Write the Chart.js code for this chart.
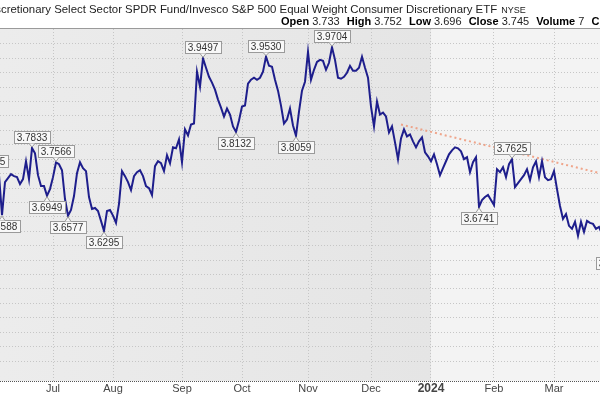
<!DOCTYPE html>
<html>
<head>
<meta charset="utf-8">
<script src="https://cdn.jsdelivr.net/npm/chart.js@4.4.0/dist/chart.umd.min.js"></script>
<style>
  html, body { margin: 0; padding: 0; background: #fff; overflow: hidden; }
  #wrap { position: relative; width: 600px; height: 396px; }
</style>
</head>
<body>
<div id="wrap"><canvas id="ratioChart" width="600" height="396"></canvas></div>
<script>
// XLY / RSPD daily close ratio, one value per trading day (index 0 = 31 May 2023)
const ratioValues = [
  3.7219, 3.7395, 3.7330, 3.7404, 3.7330, 3.6588, 3.7201, 3.7274, 3.7348, 3.7311,
  3.7293, 3.7164, 3.7256, 3.7588, 3.7256, 3.7833, 3.7736, 3.7330, 3.7127, 3.7127,
  3.6949, 3.7072, 3.7293, 3.7566, 3.7533, 3.7422, 3.6887, 3.6577, 3.6684, 3.6942,
  3.7367, 3.7570, 3.7459, 3.7404, 3.6924, 3.6703, 3.6721, 3.6666, 3.6481, 3.6295,
  3.6666, 3.6684, 3.6579, 3.6444, 3.6795, 3.7404, 3.7311, 3.7201, 3.7053, 3.7311,
  3.7385, 3.7422, 3.7311, 3.7127, 3.7090, 3.6961, 3.7496, 3.7588, 3.7551, 3.7404,
  3.7699, 3.7551, 3.7846, 3.7828, 3.7994, 3.7570, 3.8179, 3.8068, 3.8271, 3.8289,
  3.9249, 3.8972, 3.9497, 3.9322, 3.9156, 3.9046, 3.8917, 3.8732, 3.8584, 3.8418,
  3.8566, 3.8455, 3.8234, 3.8132, 3.8345, 3.8603, 3.8621, 3.9027, 3.9101, 3.9138,
  3.9101, 3.9138, 3.9249, 3.9530, 3.9359, 3.9341, 3.9101, 3.8898, 3.8621, 3.8289,
  3.8363, 3.8566, 3.8252, 3.8059, 3.8510, 3.8898, 3.9064, 3.9617, 3.9101, 3.9285,
  3.9433, 3.9470, 3.9451, 3.9285, 3.9415, 3.9704, 3.9470, 3.9138, 3.9119, 3.9156,
  3.9230, 3.9359, 3.9267, 3.9267, 3.9322, 3.9525, 3.9322, 3.9138, 3.8603, 3.8234,
  3.8695, 3.8455, 3.8492, 3.8418, 3.8123, 3.8234, 3.7939, 3.7627, 3.8012, 3.8179,
  3.8049, 3.8086, 3.7957, 3.7846, 3.7957, 3.8031, 3.7754, 3.7680, 3.7588, 3.7717,
  3.7533, 3.7330, 3.7459, 3.7588, 3.7717, 3.7791, 3.7846, 3.7828, 3.7773, 3.7626,
  3.7662, 3.7385, 3.7570, 3.7662, 3.6741, 3.6869, 3.6924, 3.6961, 3.6869, 3.6776,
  3.7441, 3.7385, 3.7477, 3.7293, 3.7533, 3.7625, 3.7108, 3.7182, 3.7256, 3.7330,
  3.7441, 3.7238, 3.7477, 3.7588, 3.7293, 3.7588, 3.7293, 3.7238, 3.7256, 3.7404,
  3.7072, 3.6758, 3.6518, 3.6610, 3.6389, 3.6334, 3.6463, 3.6204, 3.6463, 3.6278,
  3.6481, 3.6444, 3.6426, 3.6334, 3.6370, 3.6241, 3.6149, 3.6186, 3.6057, 3.5909,
  3.6149
];

// first trading day of each month and the label shown under it
const monthStarts = [22, 42, 65, 85, 107, 128, 148, 169, 189];
const monthLabels = ['Jul', 'Aug', 'Sep', 'Oct', 'Nov', 'Dec', '2024', 'Feb', 'Mar'];

// swing highs / lows that carry a value tag
const peakIdx = [1, 15, 23, 72, 93, 115, 175];
const troughIdx = [5, 20, 27, 39, 83, 103, 164, 209];

// dotted trend line (two anchor points)
const trendIdx = [138, 210];
const trendValues = [3.8270, 3.7289];

// horizontal grid levels (price axis labels are off the picture)
const gridValues = [
  3.9765, 3.9498, 3.9230, 3.8963, 3.8695, 3.8428, 3.8160, 3.7893, 3.7625, 3.7358,
  3.7090, 3.6823, 3.6555, 3.6288, 3.6020, 3.5753, 3.5485, 3.5218, 3.4950, 3.4683,
  3.4415, 3.4148, 3.3880
];

const titleText = 'Consumer Discretionary Select Sector SPDR Fund/Invesco S&P 500 Equal Weight Consumer Discretionary ETF';
const exchangeText = 'NYSE';
const quoteLabels = ['Open', 'High', 'Low', 'Close', 'Volume', 'Chg'];
const quoteValues = ['3.733', '3.752', '3.696', '3.745', '7', ''];

const FONT = '"Liberation Sans", Arial, sans-serif';

// Background shading: 2023 darker, 2024 lighter
const backgroundPlugin = {
    id: 'background',
    beforeDraw(chart) {
        const { ctx, chartArea, scales } = chart;
        const split = scales.x.getPixelForValue(monthStarts[6]);
        ctx.save();
        ctx.fillStyle = '#ffffff';
        ctx.fillRect(0, 0, chart.width, chart.height);
        const grad = ctx.createLinearGradient(chartArea.left, 0, split, 0);
        grad.addColorStop(0, '#ececec');
        grad.addColorStop(1, '#e5e5e5');
        ctx.fillStyle = grad;
        ctx.fillRect(chartArea.left, chartArea.top, split - chartArea.left, chartArea.bottom - chartArea.top);
        ctx.fillStyle = '#f3f3f3';
        ctx.fillRect(split, chartArea.top, chartArea.right - split, chartArea.bottom - chartArea.top);
        ctx.restore();
    }
};

// Frame: grey line at top, dotted axis line at bottom
const framePlugin = {
    id: 'frame',
    afterDatasetsDraw(chart) {
        const { ctx, chartArea } = chart;
        ctx.save();
        ctx.strokeStyle = '#9a9a9a';
        ctx.lineWidth = 1;
        ctx.beginPath();
        ctx.moveTo(0, chartArea.top - 0.5);
        ctx.lineTo(chart.width, chartArea.top - 0.5);
        ctx.stroke();
        ctx.strokeStyle = '#555';
        ctx.setLineDash([1, 1]);
        ctx.beginPath();
        ctx.moveTo(0, chartArea.bottom + 0.5);
        ctx.lineTo(chart.width, chartArea.bottom + 0.5);
        ctx.stroke();
        ctx.restore();
    }
};

function drawTag(ctx, px, py, text, above) {
    ctx.font = '10px ' + FONT;
    const w = Math.round(ctx.measureText(text).width) + 5;
    const h = 12;
    const bx = Math.round(px - w / 2) + 0.5;
    const by = above ? Math.round(py - 5 - h) + 0.5 : Math.round(py + 5) + 0.5;
    ctx.fillStyle = '#f8f8f8';
    ctx.strokeStyle = '#9a9a9a';
    ctx.lineWidth = 1;
    ctx.fillRect(bx, by, w, h);
    ctx.strokeRect(bx, by, w, h);
    // little pointer towards the swing point
    const ny = above ? by + h : by;
    ctx.beginPath();
    ctx.moveTo(px - 3, ny);
    ctx.lineTo(px, above ? py - 1 : py + 1);
    ctx.lineTo(px + 3, ny);
    ctx.fillStyle = '#f8f8f8';
    ctx.fill();
    ctx.stroke();
    ctx.fillStyle = '#333';
    ctx.textAlign = 'center';
    ctx.textBaseline = 'middle';
    ctx.fillText(text, px, by + h / 2 + 0.5);
}

const tagPlugin = {
    id: 'swingTags',
    afterDatasetsDraw(chart) {
        const { ctx, scales } = chart;
        ctx.save();
        peakIdx.forEach(i => {
            drawTag(ctx, scales.x.getPixelForValue(i), scales.y.getPixelForValue(ratioValues[i]), ratioValues[i].toFixed(4), true);
        });
        troughIdx.forEach(i => {
            drawTag(ctx, scales.x.getPixelForValue(i), scales.y.getPixelForValue(ratioValues[i]), ratioValues[i].toFixed(4), false);
        });
        ctx.restore();
    }
};

// Title row and quote row above the plot
const headerPlugin = {
    id: 'header',
    afterDraw(chart) {
        const ctx = chart.ctx;
        ctx.save();
        ctx.textBaseline = 'middle';
        ctx.textAlign = 'left';
        ctx.fillStyle = '#222';
        ctx.font = '11.4px ' + FONT;
        let x = 1 - ctx.measureText('Consumer Dis').width;
        ctx.fillText(titleText, x, 10);
        x += ctx.measureText(titleText + ' ').width + 1;
        ctx.font = '9px ' + FONT;
        ctx.fillText(exchangeText, x, 11);

        let qx = 281;
        quoteLabels.forEach((label, k) => {
            ctx.font = 'bold 11px ' + FONT;
            ctx.fillStyle = '#000';
            ctx.fillText(label, qx, 22);
            qx += ctx.measureText(label + ' ').width;
            ctx.font = '11px ' + FONT;
            ctx.fillStyle = '#222';
            if (quoteValues[k]) {
                ctx.fillText(quoteValues[k], qx, 22);
                qx += ctx.measureText(quoteValues[k] + '  ').width + 1;
            }
        });
        ctx.restore();
    }
};

const ctx = document.getElementById('ratioChart').getContext('2d');
new Chart(ctx, {
    type: 'line',
    data: {
        datasets: [
            {
                data: ratioValues.map((v, i) => ({ x: i, y: v })),
                borderColor: '#1e1e8c',
                borderWidth: 2,
                pointRadius: 0,
                tension: 0,
                order: 0
            },
            {
                data: trendIdx.map((idx, k) => ({ x: idx, y: trendValues[k] })),
                borderColor: 'rgba(238, 150, 120, 0.85)',
                borderWidth: 2,
                borderDash: [2, 3],
                pointRadius: 0,
                order: 1
            }
        ]
    },
    options: {
        responsive: false,
        animation: false,
        layout: { padding: { top: 29, left: 0, right: 0, bottom: -1 } },
        plugins: {
            legend: { display: false },
            tooltip: { enabled: false }
        },
        scales: {
            x: {
                type: 'linear',
                min: 13 / 3,
                max: 613 / 3,
                afterBuildTicks: axis => {
                    axis.ticks = monthStarts.map(v => ({ value: v }));
                },
                ticks: {
                    autoSkip: false,
                    maxRotation: 0,
                    padding: 2,
                    color: '#444',
                    callback: value => monthLabels[monthStarts.indexOf(value)],
                    font: c => ({
                        family: FONT,
                        size: c.tick && c.tick.label === '2024' ? 12 : 11,
                        weight: c.tick && c.tick.label === '2024' ? 'bold' : 'normal',
                        lineHeight: 1
                    })
                },
                grid: { color: '#c6c6c6', drawTicks: false, lineWidth: 1 },
                border: { display: false, dash: [1, 2] }
            },
            y: {
                type: 'linear',
                min: 3.3510,
                max: 4.0042,
                afterBuildTicks: axis => {
                    axis.ticks = gridValues.map(v => ({ value: v }));
                },
                ticks: { display: false },
                grid: { color: '#c6c6c6', drawTicks: false, lineWidth: 1 },
                border: { display: false, dash: [1, 2] }
            }
        }
    },
    plugins: [backgroundPlugin, framePlugin, tagPlugin, headerPlugin]
});
</script>
</body>
</html>
